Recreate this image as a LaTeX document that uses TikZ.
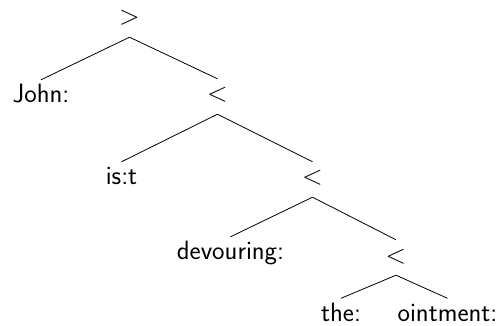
\RequirePackage{fix-cm}
\documentclass[tikz,border=0pt]{standalone}
\usepackage{fontspec}
\begin{document}
\begin{tikzpicture}[x=1pt,y=-1pt,
  lbl/.style={anchor=base,font=\sffamily\fontsize{26.5}{30}\selectfont,
    text height=18pt,text depth=7pt,inner xsep=0pt,inner ysep=5pt},
  sym/.style={lbl,font=\sffamily\fontsize{27}{30}\selectfont},
  leaf/.style={lbl,text depth=3pt,inner ysep=5pt},
  edge/.style={draw=black,line width=0.8pt}]
\useasboundingbox (0,0) rectangle (504,326);
\node[sym] (r)  at (129.5,25) {$>$};
\node[lbl] (john) at (41,103) {John:};
\node[sym] (l1) at (217.5,102) {$<$};
\node[lbl] (ist) at (121.5,185) {is:t};
\node[sym] (l2) at (312.5,185) {$<$};
\node[lbl] (dev) at (230.5,260) {devouring:};
\node[sym] (l3) at (396,263) {$<$};
\node[leaf] (the) at (341,321.5) {the:};
\node[leaf] (oint) at (447.5,321.5) {ointment:};
\draw[edge] (r.south) -- (john.north);
\draw[edge] (r.south) -- (l1.north);
\draw[edge] (l1.south) -- (ist.north);
\draw[edge] (l1.south) -- (l2.north);
\draw[edge] (l2.south) -- (dev.north);
\draw[edge] (l2.south) -- (l3.north);
\draw[edge] (l3.south) -- (the.north);
\draw[edge] (l3.south) -- (oint.north);
\end{tikzpicture}
\end{document}
